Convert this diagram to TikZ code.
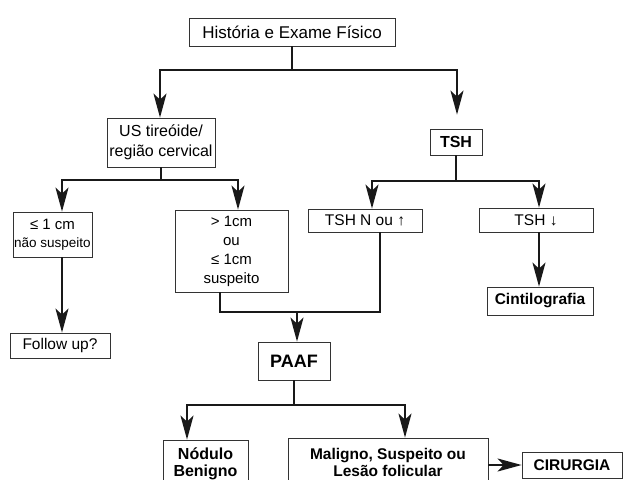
\documentclass[tikz,border=0pt]{standalone}
\usepackage{fontspec}
\setmainfont{Liberation Sans}
\usetikzlibrary{positioning,arrows.meta}

\begin{document}
\begin{tikzpicture}[x=1pt, y=-1pt, line width=2pt, color=black!90,
  >={Stealth[length=24pt 0, width=13pt 0, inset=6pt 0]},
  box/.style={draw=black!80, line width=0.8pt, inner sep=0pt, align=center, text=black,
    font=\fontsize{15.5}{19}\selectfont},
  boldbox/.style={box, font=\fontsize{15.5}{17}\selectfont\bfseries}]

\useasboundingbox (0,0) rectangle (625,480);

% top
\node[box, minimum width=206pt, minimum height=28pt, font=\fontsize{17}{20}\selectfont] (hist) at (292, 32) {História e Exame Físico};

% left branch
\node[box, minimum width=108pt, minimum height=49pt, font=\fontsize{16}{20}\selectfont] (us) at (161, 142.5) {US tireóide/\\região cervical};
\node[box, minimum width=79pt, minimum height=45pt, font=\fontsize{13.5}{18}\selectfont] (small) at (52.5, 234.5) {{\fontsize{15}{18}\selectfont ≤ 1 cm}\\não suspeito};
\node[box, minimum width=113pt, minimum height=82pt, font=\fontsize{15}{19}\selectfont] (large) at (231.5, 251) {> 1cm\\ou\\≤ 1cm\\suspeito};
\node[box, minimum width=100pt, minimum height=25pt] (follow) at (60, 345.5) {Follow up?};

% right branch
\node[boldbox, minimum width=52pt, minimum height=26pt, font=\fontsize{16}{19}\selectfont\bfseries] (tsh) at (456, 142) {TSH};
\node[box, minimum width=114pt, minimum height=23pt] (tshn) at (365, 220.5) {TSH N ou ↑};
\node[box, minimum width=114pt, minimum height=24pt] (tshd) at (536, 220) {TSH ↓};
\node[boldbox, minimum width=106pt, minimum height=28pt] (cint) at (540, 301) {Cintilografia};

% PAAF
\node[boldbox, minimum width=72pt, minimum height=38pt, font=\fontsize{18}{20}\selectfont\bfseries] (paaf) at (294, 361) {PAAF};
\node[boldbox, minimum width=85pt, minimum height=48pt, font=\fontsize{16}{17}\selectfont\bfseries] (nod) at (205.5, 464) {Nódulo\\Benigno};
\node[boldbox, minimum width=200pt, minimum height=48pt] (mal) at (388, 462) {Maligno, Suspeito ou\\Lesão folicular};
\node[boldbox, minimum width=100pt, minimum height=26pt] (cir) at (572, 465) {CIRURGIA};

% arrows
\draw[->] (hist.south) -- ++(0,24) -| ([xshift=-1pt]us.north);
\draw[->, shorten >=14pt] (hist.south) -- ++(0,24) -| ([xshift=1pt]tsh.north);
\draw[->] (us.south) -- ++(0,13) -| ([xshift=9.5pt]small.north);
\draw[->] (us.south) -- ++(0,13) -| ([xshift=6.5pt]large.north);
\draw[->] ([xshift=9.5pt]small.south) -- ([xshift=9.5pt]small.south |- follow.north);
\draw[->] (tsh.south) -- ++(0,26) -| ([xshift=7pt]tshn.north);
\draw[->] (tsh.south) -- ++(0,26) -| ([xshift=3pt]tshd.north);
\draw[->] ([xshift=3pt]tshd.south) -- ([xshift=3pt]tshd.south |- cint.north);
\coordinate (join) at (297, 312);
\draw ([xshift=15pt]tshn.south) |- (join);
\draw ([xshift=-11.5pt]large.south) |- (join);
\draw[->] (join) -- (join |- paaf.north);
\draw[->] (paaf.south) -- ++(0,25) -| ([xshift=-18.5pt]nod.north);
\draw[->] (paaf.south) -- ++(0,25) -| ([xshift=17pt]mal.north);
\draw[->] (mal.east |- cir.west) -- (cir.west);

\end{tikzpicture}
\end{document}
